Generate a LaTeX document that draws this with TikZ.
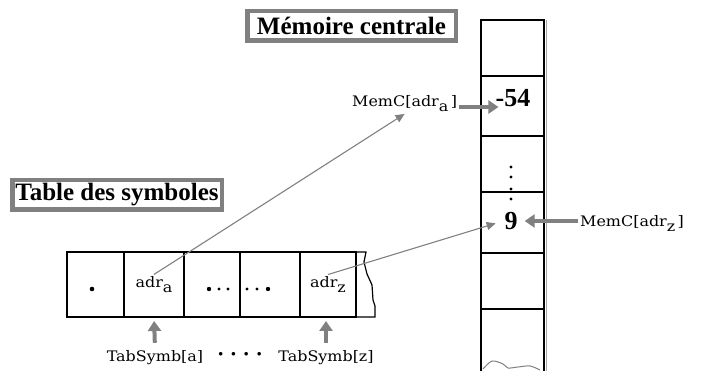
\documentclass[tikz,border=0pt]{standalone}
\usepackage{fontspec}
\setmainfont{Liberation Serif}
\newfontfamily\lblfont[FakeStretch=1.1]{DejaVu Serif}
\usetikzlibrary{arrows.meta,positioning}
\newcommand{\lowsub}[1]{\raisebox{-0.6ex}{#1}}

\begin{document}
\begin{tikzpicture}[x=1pt, y=-1pt,
    title/.style={draw=gray, line width=4.5pt, fill=white, inner sep=0pt,
        font=\fontsize{25}{28}\selectfont\bfseries},
    lbl/.style={font=\lblfont\fontsize{14.5}{17}\selectfont, inner sep=2pt},
    num/.style={font=\fontsize{26}{28}\selectfont\bfseries, inner sep=1pt},
    mcell/.style={draw, line width=1.2pt, minimum width=63pt, inner sep=0pt,
        outer sep=0pt, anchor=north west},
    tcell/.style={draw, line width=1.2pt, minimum height=65pt, inner sep=0pt,
        outer sep=0pt, anchor=north west},
    fat/.style={draw=gray, line width=4pt, -{Triangle[length=10pt,width=13pt]}},
    thinline/.style={draw=gray, line width=1.1pt, -{Triangle[length=9pt,width=8pt]}}]
    \useasboundingbox (0,0) rectangle (702,371);

    % Titles
    \node[title, minimum width=208.5pt, minimum height=29.5pt] (memtitle) at (351.5,26) {Mémoire centrale};
    \node[title, minimum width=209.5pt, minimum height=29.5pt] (tabtitle) at (117,195) {Table des symboles};

    % Memory column
    \foreach \n/\top/\h in {1/20/56, 2/76/60, 3/136/56, 4/192/61, 5/253/56, 6/309/70}
        \node[mcell, minimum height=\h pt] (m\n) at (481,\top) {};
    \draw[gray!70, line width=0.8pt] ([xshift=2.5pt]m1.north east) -- ([xshift=2.5pt]m6.south east);
    \draw[gray, line width=1pt] plot[smooth] coordinates {(483,369) (492,361) (503,364) (508,368) (518,367) (530,366) (540,370)};

    \node[num] (v54) at (513,98) {-54};
    \node[num] (v9) at (511,221) {9};
    \foreach \y in {167,177,189,199}
        \fill (511,\y) circle (1.7pt);

    % Symbol table
    \node[tcell, minimum width=57pt] (c1) at (67,252) {};
    \node[tcell, minimum width=60pt, right=0pt of c1] (c2) {};
    \node[tcell, minimum width=56pt, right=0pt of c2] (c3) {};
    \node[tcell, minimum width=60pt, right=0pt of c3] (c4) {};
    \node[tcell, minimum width=56pt, right=0pt of c4] (c5) {};
    \draw[line width=1.2pt] (c5.north east) -- (366,252) -- (364,262) -- (367,274) -- (372,285)
        -- (373,300) -- (375,306) -- (375,317) -- (c5.south east);

    \node[lbl] (adra) at (c2) {adr\lowsub{a}};
    \node[lbl] (adrz) at (c5) {adr\lowsub{z}};
    \fill (92,289) circle (2.3pt);
    \fill (209,289) circle (2.2pt);
    \fill (268,289) circle (2.2pt);
    \foreach \x in {219,228,247,257}
        \fill (\x,289) circle (1.6pt);

    % Labels
    \node[lbl, anchor=base west] (memca) at (350,107) {MemC[adr\lowsub{a}\,]};
    \node[lbl, anchor=base west] (memcz) at (578,227) {MemC[adr\lowsub{z}\,]};
    \node[lbl, anchor=base] (tabsa) at (155,362) {TabSymb[a]};
    \node[lbl, anchor=base] (tabsz) at (326,362) {TabSymb[z]};
    \node[lbl, anchor=base, font=\fontsize{22}{24}\selectfont\bfseries] (tdots) at (240,362) {· · · ·};

    % Arrows
    \draw[fat, shorten >=-4pt] (memca.base east) -- (memca.base east -| v54.west);
    \draw[fat, shorten >=6pt] (memcz.west |- v9.east) -- (v9.east);
    \draw[fat, shorten <=6pt, shorten >=4pt] (tabsa.north) -- (c2.south);
    \draw[fat, shorten <=6pt, shorten >=4pt] (tabsz.north) -- (tabsz.north |- c5.south);
    \draw[thinline] (adra.north) -- (memca.south);
    \draw[thinline, shorten >=8pt] (adrz.north) -- (v9.west);
\end{tikzpicture}
\end{document}
